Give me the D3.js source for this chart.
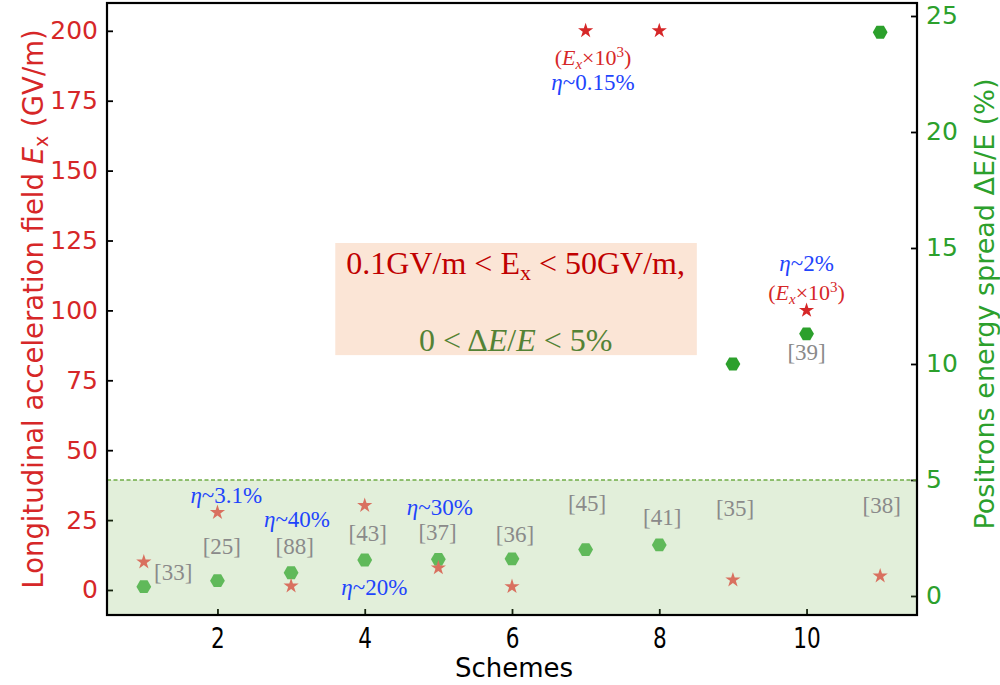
<!DOCTYPE html>
<html><head><meta charset="utf-8">
<script src="https://cdn.jsdelivr.net/npm/d3@7"></script>
<style>body{margin:0;background:#fff}</style>
</head><body><svg id="c" width="1000" height="685"></svg>
<script>
// ---------- data ----------
const schemes = [1,2,3,4,5,6,7,8,9,10,11];
const fieldEx = [10, 27.7, 1.4, 30.2, 7.9, 1.2, 200, 200, 3.6, 100, 5.0];   // GV/m (left axis)
const spreadPct = [0.4, 0.66, 1.0, 1.55, 1.58, 1.6, 2.0, 2.2, 10.0, 11.3, 24.3]; // % (right axis)
const fieldTicks = [0,25,50,75,100,125,150,175,200];
const spreadTicks = [0,5,10,15,20,25];
const schemeTicks = [2,4,6,8,10];
const spreadLimit = 5;
// reference labels: [scheme x, left-axis y, text]
const refLabels = [
  [1.40, 6.3, "[33]"], [2.06, 15.6, "[25]"], [3.05, 15.6, "[88]"], [4.04, 20.3, "[43]"],
  [4.99, 20.6, "[37]"], [6.04, 19.9, "[36]"], [7.02, 31.0, "[45]"], [8.04, 26.0, "[41]"],
  [9.03, 29.2, "[35]"], [10.0, 85.1, "[39]"], [11.02, 30.3, "[38]"]
];
// efficiency labels
const etaLabels = [
  [2.12, 33.9, "~3.1%"], [3.08, 25.3, "~40%"], [4.13, 1.0, "~20%"], [5.02, 29.6, "~30%"],
  [7.10, 181.7, "~0.15%"], [10.0, 116.9, "~2%"]
];
// scaled-field notes
const scaledNotes = [[7.10, 190.6], [10.0, 106.5]];
const boxRange = {x0: 3.60, x1: 8.51, y0: 84.0, y1: 124.1};
const boxLines = {x: 6.05, y1: 116.9, y2: 89.4};

// ---------- layout ----------
const L = 107, R = 917, T = 3, B = 615;
const svg = d3.select("#c");
const x = d3.scaleLinear().domain([0.5, 11.5]).range([L, R]);
const yL = d3.scaleLinear().domain([-8.95, 209.95]).range([B, T]);
const yR = d3.scaleLinear().domain([-0.82, 25.56]).range([B, T]);

const red = "#d62728", green = "#2ca02c";
const serif = "'Liberation Serif', 'DejaVu Serif', serif";
const sans = "'DejaVu Sans', sans-serif";

// axes
const gL = svg.append("g").attr("transform", `translate(${L},0)`)
  .call(d3.axisLeft(yL).tickValues(fieldTicks).tickSize(-6).tickPadding(9));
const gR = svg.append("g").attr("transform", `translate(${R},0)`)
  .call(d3.axisRight(yR).tickValues(spreadTicks).tickSize(-6).tickPadding(9));
const gB = svg.append("g").attr("transform", `translate(0,${B})`)
  .call(d3.axisBottom(x).tickValues(schemeTicks).tickSize(-6).tickPadding(12));
[gL, gR, gB].forEach(g => {
  g.select(".domain").remove();
  g.selectAll(".tick line").attr("stroke", "#000").attr("stroke-width", 1.8);
  g.selectAll("text").attr("font-family", sans).attr("font-size", 25);
});
gL.selectAll("text").attr("fill", red);
gR.selectAll("text").attr("fill", green);
gB.selectAll(".tick text").attr("fill", "#000").attr("font-size", 27)
  .attr("transform", "scale(0.8,1.05)");

// symbols
function starPath(R0) {
  const r0 = R0 * 0.382, pts = [];
  for (let k = 0; k < 10; k++) {
    const a = -Math.PI/2 + k*Math.PI/5, rr = k%2 ? r0 : R0;
    pts.push([rr*Math.cos(a), rr*Math.sin(a)]);
  }
  return "M" + pts.map(p => p.join(",")).join("L") + "Z";
}
function hexPath(R0) {
  const pts = [];
  for (let k = 0; k < 6; k++) { const a = k*Math.PI/3; pts.push([R0*Math.cos(a), R0*Math.sin(a)]); }
  return "M" + pts.map(p => p.join(",")).join("L") + "Z";
}

// low-spread band
const bandTop = yR(spreadLimit);
svg.append("rect").attr("x", L).attr("y", bandTop).attr("width", R-L).attr("height", B-bandTop)
  .attr("fill", "#70ad47").attr("fill-opacity", 0.2);
svg.append("line").attr("x1", L).attr("x2", R).attr("y1", bandTop).attr("y2", bandTop)
  .attr("stroke", "#70ad47").attr("stroke-width", 1.5).attr("stroke-dasharray", "4,2.5");

// markers
svg.append("g").selectAll("path").data(schemes).join("path")
  .attr("d", hexPath(7.4))
  .attr("transform", (d,i) => `translate(${x(d)},${yR(spreadPct[i])})`)
  .attr("fill", (d,i) => yR(spreadPct[i]) > bandTop ? "#60b95a" : green);
svg.append("g").selectAll("path").data(schemes).join("path")
  .attr("d", starPath(8))
  .attr("transform", (d,i) => `translate(${x(d)},${yL(fieldEx[i])})`)
  .attr("fill", (d,i) => yL(fieldEx[i]) > bandTop ? "#d9705f" : red);

// frame
svg.append("rect").attr("x", L).attr("y", T).attr("width", R-L).attr("height", B-T)
  .attr("fill", "none").attr("stroke", "#000").attr("stroke-width", 2.2);

// condition box
svg.append("rect").attr("x", x(boxRange.x0)).attr("y", yL(boxRange.y1))
  .attr("width", x(boxRange.x1)-x(boxRange.x0)).attr("height", yL(boxRange.y0)-yL(boxRange.y1))
  .attr("fill", "#fbe5d6");
const t1 = svg.append("text").attr("x", x(boxLines.x)).attr("y", yL(boxLines.y1)).attr("dy", "0.35em")
  .attr("text-anchor", "middle").attr("font-family", serif).attr("font-size", 32).attr("fill", "#c00000");
t1.append("tspan").text("0.1GV/m < E");
t1.append("tspan").attr("font-size", 22).attr("dy", 6).text("x");
t1.append("tspan").attr("dy", -6).text(" < 50GV/m,");
const t2 = svg.append("text").attr("x", x(boxLines.x)).attr("y", yL(boxLines.y2)).attr("dy", "0.35em")
  .attr("text-anchor", "middle").attr("font-family", serif).attr("font-size", 32).attr("fill", "#548235");
t2.append("tspan").text("0 < Δ");
t2.append("tspan").attr("font-style", "italic").text("E");
t2.append("tspan").text("/");
t2.append("tspan").attr("font-style", "italic").text("E");
t2.append("tspan").text(" < 5%");

// reference labels
svg.append("g").selectAll("text").data(refLabels).join("text")
  .attr("x", d => x(d[0])).attr("y", d => yL(d[1])).attr("dy", "0.35em")
  .attr("text-anchor", "middle").attr("font-family", serif).attr("font-size", 23)
  .attr("fill", "#8a8a8a").text(d => d[2]);

// efficiency labels
svg.append("g").selectAll("text").data(etaLabels).join("text")
  .attr("x", d => x(d[0])).attr("y", d => yL(d[1])).attr("dy", "0.35em")
  .attr("text-anchor", "middle").attr("font-family", serif).attr("font-size", 23)
  .attr("fill", "#1f45fc")
  .each(function(d){
    const s = d3.select(this);
    s.append("tspan").attr("font-style", "italic").text("η");
    s.append("tspan").text(d[2]);
  });

// scaled notes
svg.append("g").selectAll("text").data(scaledNotes).join("text")
  .attr("x", d => x(d[0])).attr("y", d => yL(d[1])).attr("dy", "0.35em")
  .attr("text-anchor", "middle").attr("font-family", serif).attr("font-size", 22)
  .attr("fill", red)
  .each(function(){
    const s = d3.select(this);
    s.append("tspan").text("(");
    s.append("tspan").attr("font-style", "italic").text("E");
    s.append("tspan").attr("font-style", "italic").attr("font-size", 15).attr("dy", 4).text("x");
    s.append("tspan").attr("dy", -4).text("×10");
    s.append("tspan").attr("font-size", 15).attr("dy", -8).text("3");
    s.append("tspan").attr("dy", 8).text(")");
  });

// axis titles
const yl = svg.append("text").attr("transform", "translate(33,309) rotate(-90)")
  .attr("text-anchor", "middle").attr("dy", "0.35em").attr("font-family", sans).attr("font-size", 27.5)
  .attr("fill", red);
yl.append("tspan").text("Longitudinal acceleration field ");
yl.append("tspan").attr("font-style", "italic").text("E");
yl.append("tspan").attr("font-size", 19).attr("dy", 5).text("x");
yl.append("tspan").attr("dy", -5).text(" (GV/m)");
svg.append("text").attr("transform", "translate(985,304) rotate(-90)")
  .attr("text-anchor", "middle").attr("dy", "0.35em").attr("font-family", sans).attr("font-size", 27)
  .attr("fill", green).text("Positrons energy spread ΔE/E (%)");
svg.append("text").attr("x", 514).attr("y", 668).attr("dy", "0.35em")
  .attr("text-anchor", "middle").attr("font-family", sans).attr("font-size", 26)
  .attr("fill", "#000").text("Schemes");
</script></body></html>
